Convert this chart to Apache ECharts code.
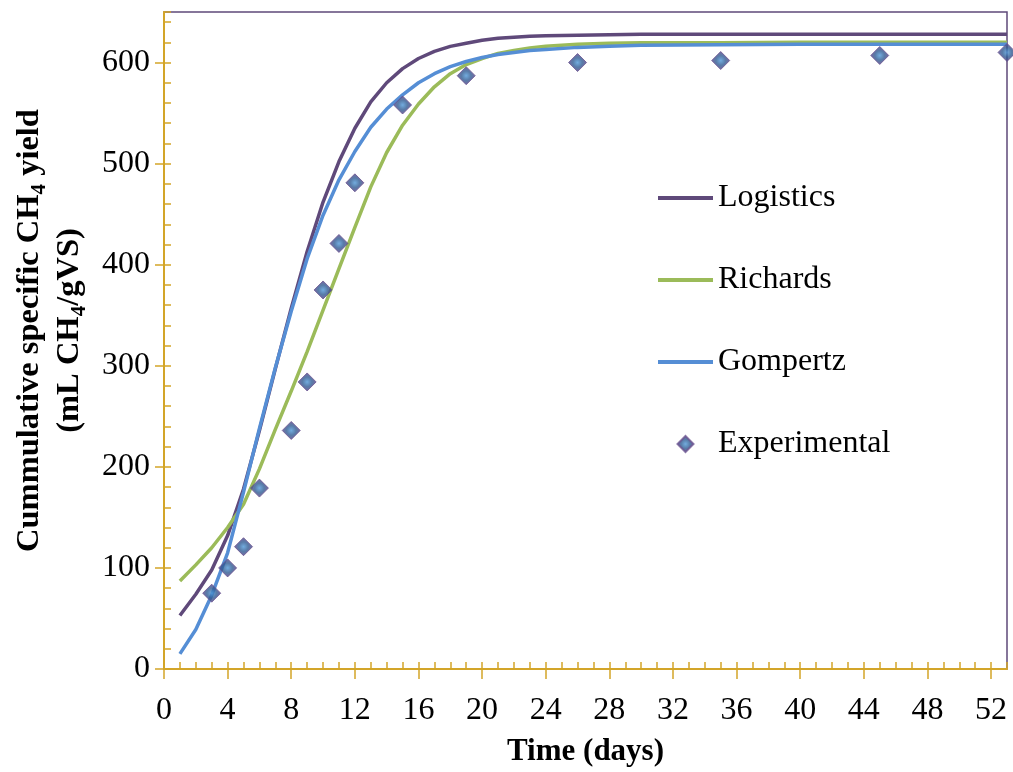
<!DOCTYPE html>
<html>
<head>
<meta charset="utf-8">
<script src="https://cdn.jsdelivr.net/npm/echarts@6/dist/echarts.min.js"></script>
<style>
html,body{margin:0;padding:0;background:#fff;}
#c{width:1013px;height:772px;}
</style>
</head>
<body>
<div id="c"></div>
<script>
// ---- data ----
var modelDays   = [1,2,3,4,5,6,7,8,9,10,11,12,13,14,15,16,17,18,19,20,21,22,23,24,26,28,30,35,40,45,53];
var logistics   = [53,74,98,132,178,236,297,357,413,462,502,535,561,580,594,604,611,616,619,622,624,625,626,626.5,627,627.5,628,628,628,628,628];
var richards    = [87,103,120,140,163,198,237,275,314,355,396,437,477,511,538,559,576,589,598,604,609,612,614.5,616,618,619,619.5,619.5,620,620,620];
var gompertz    = [15,39,73,115,175,238,298,354,406,449,484,512,536,554,568,580,589,596,601,605,608,610,612,613,615,616,617,617.5,618,618,618];
var expDays     = [3,4,5,6,8,9,10,11,12,15,19,26,35,45,53];
var expValues   = [75,100,121,179,236,284,375,421,481,558,587,600,602,607,610];
var xTickLabels = [0,4,8,12,16,20,24,28,32,36,40,44,48,52];
var yTickLabels = [0,100,200,300,400,500,600];
var seriesNames = ['Logistics','Richards','Gompertz','Experimental'];

function pairs(xs, ys){ return xs.map(function(x,i){ return [x, ys[i]]; }); }

var FONT = "'Liberation Serif','Times New Roman',serif";
var GOLD = '#d3a529';
var PURPLE = '#5f497a';
var GREEN = '#9bbb59';
var BLUE = '#558ed5';
var DIAMOND_PATH = 'path://M8,0L16,8L8,16L0,8Z';
var BAR_PATH = 'path://M0,0L55,0L55,4L0,4Z';

var chart = echarts.init(document.getElementById('c'), null, {renderer:'canvas'});
chart.setOption({
  animation: false,
  backgroundColor: '#ffffff',
  grid: {
    left: 164, right: 6, top: 12, bottom: 103,
    show: true, borderColor: PURPLE, borderWidth: 1.5, backgroundColor: 'transparent'
  },
  legend: {
    orient: 'vertical',
    left: 658, top: 182, padding: 0,
    itemWidth: 55, itemHeight: 16, itemGap: 50,
    symbolKeepAspect: true,
    textStyle: {fontFamily: FONT, fontSize: 32, color: '#000', lineHeight: 32},
    data: [
      {name: seriesNames[0], icon: BAR_PATH, itemStyle: {color: PURPLE}},
      {name: seriesNames[1], icon: BAR_PATH, itemStyle: {color: GREEN}},
      {name: seriesNames[2], icon: BAR_PATH, itemStyle: {color: BLUE}},
      {name: seriesNames[3], icon: DIAMOND_PATH}
    ]
  },
  xAxis: [
    {
      type: 'value', min: 0, max: 53, interval: 1,
      axisLine: {show: true, lineStyle: {color: GOLD, width: 2}},
      axisTick: {show: true, inside: true, length: 7, lineStyle: {color: GOLD, width: 1.5}},
      axisLabel: {show: false},
      splitLine: {show: false}
    },
    {
      type: 'value', min: 0, max: 53, interval: 4, position: 'bottom',
      axisLine: {show: false},
      axisTick: {show: true, inside: false, length: 10, customValues: xTickLabels, lineStyle: {color: GOLD, width: 1.5}},
      axisLabel: {show: true, customValues: xTickLabels, margin: 26, fontFamily: FONT, fontSize: 32, color: '#000'},
      splitLine: {show: false},
      name: 'Time (days)', nameLocation: 'middle', nameGap: 67,
      nameTextStyle: {fontFamily: FONT, fontSize: 31, fontWeight: 'bold', color: '#000'}
    }
  ],
  yAxis: [
    {
      type: 'value', min: 0, max: 650, interval: 20,
      axisLine: {show: true, lineStyle: {color: GOLD, width: 2}},
      axisTick: {show: true, inside: true, length: 7, lineStyle: {color: GOLD, width: 1.5}},
      axisLabel: {show: false},
      splitLine: {show: false}
    },
    {
      type: 'value', min: 0, max: 650, interval: 100, position: 'left',
      axisLine: {show: false},
      axisTick: {show: true, inside: false, length: 9, customValues: yTickLabels, lineStyle: {color: GOLD, width: 1.5}},
      axisLabel: {show: true, customValues: yTickLabels, margin: 14, fontFamily: FONT, fontSize: 32, color: '#000'},
      splitLine: {show: false},
      name: 'Cummulative specific CH{s|4} yield\n(mL CH{s|4}/gVS)',
      nameLocation: 'middle', nameRotate: 90, nameGap: 74,
      nameTextStyle: {
        fontFamily: FONT, fontSize: 32.5, fontWeight: 'bold', color: '#000', lineHeight: 40, align: 'center',
        padding: [0, 0, 0, 20],
        rich: {
          s: {fontFamily: FONT, fontSize: 21, fontWeight: 'bold', color: '#000', verticalAlign: 'bottom', lineHeight: 16}
        }
      }
    }
  ],
  series: [
    {name: seriesNames[0], type: 'line', data: pairs(modelDays, logistics), symbol: 'none', showSymbol: false,
     lineStyle: {color: PURPLE, width: 3.5}, itemStyle: {color: PURPLE}, z: 3},
    {name: seriesNames[1], type: 'line', data: pairs(modelDays, richards), symbol: 'none', showSymbol: false,
     lineStyle: {color: GREEN, width: 3.5}, itemStyle: {color: GREEN}, z: 3},
    {name: seriesNames[2], type: 'line', data: pairs(modelDays, gompertz), symbol: 'none', showSymbol: false,
     lineStyle: {color: BLUE, width: 3.5}, itemStyle: {color: BLUE}, z: 4},
    {name: seriesNames[3], type: 'scatter', data: pairs(expDays, expValues), symbol: 'diamond', symbolSize: 18,
     itemStyle: {
       color: {type: 'radial', x: 0.5, y: 0.5, r: 0.55, colorStops: [
         {offset: 0, color: '#4f97d6'}, {offset: 0.45, color: '#2f5a92'}, {offset: 1, color: '#5e4284'}]},
       borderColor: '#6a5290', borderWidth: 1
     }, z: 5}
  ]
});
</script>
</body>
</html>
